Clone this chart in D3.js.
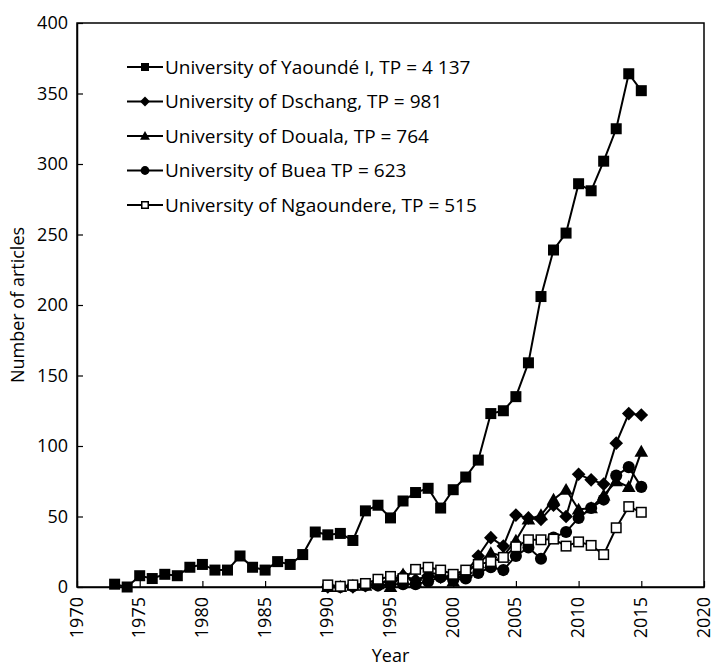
<!DOCTYPE html>
<html>
<head>
<meta charset="utf-8">
<script src="https://cdn.jsdelivr.net/npm/d3@7"></script>
<style>
  body { margin: 0; background: #fff; }
  text { font-family: "Open Sans", sans-serif; fill: #000; }
</style>
</head>
<body>
<svg id="chart" width="714" height="667"></svg>
<script>
// values
const yearsY1 = d3.range(1973, 2016);
const yaounde = [2, 0, 8, 6, 9, 8, 14, 16, 12, 12, 22, 14, 12, 18, 16, 23, 39, 37, 38, 33,
  54, 58, 49, 61, 67, 70, 56, 69, 78, 90, 123, 125, 135, 159, 206, 239, 251, 286, 281, 302, 325, 364, 352];
const years90 = d3.range(1990, 2016);
const dschang = [0, 0, 0, 1, 3, 4, 8, 5, 8, 7, 8, 10, 22, 35, 29, 51, 49, 48, 58, 50, 80, 76, 73, 102, 123, 122];
const douala = [0, 0, 1, 1, 2, 0, 9, 3, 10, 9, 4, 10, 17, 24, 22, 33, 48, 51, 62, 69, 55, 56, 65, 75, 71, 96];
const buea = [0.5, 0, 0.5, 1, 1, 2, 2, 2, 4, 7, 5, 6, 10, 14, 12, 22, 28, 20, 35, 39, 49, 56, 62, 79, 85, 71];
const ngaoundere = [1.5, 0.5, 1.5, 2.5, 5.5, 7.5, 6, 12.5, 14, 12, 9, 12, 16, 18, 21, 28.5, 33.5, 33.5, 34, 29, 32, 29.5, 23, 42, 57, 53];

const seriesNames = ["University of Yaoundé I, TP = 4 137", "University of Dschang, TP = 981",
  "University of Douala, TP = 764", "University of Buea TP = 623", "University of Ngaoundere, TP = 515"];
const xTicks = d3.range(1970, 2021, 5);
const yTicks = d3.range(0, 401, 50);

const series = [
  {name: seriesNames[0], shape: "square", years: yearsY1, vals: yaounde},
  {name: seriesNames[1], shape: "diamond", years: years90, vals: dschang},
  {name: seriesNames[2], shape: "triangle", years: years90, vals: douala},
  {name: seriesNames[3], shape: "circle", years: years90, vals: buea},
  {name: seriesNames[4], shape: "open", years: years90, vals: ngaoundere}
];

const svg = d3.select("#chart");
const margin = {top: 23, right: 10, bottom: 80, left: 77};
const width = 704 - margin.left;
const height = 587 - margin.top;

const x = d3.scaleLinear().domain([1970, 2020]).range([0, width]);
const y = d3.scaleLinear().domain([0, 400]).range([height, 0]);

const g = svg.append("g")
    .attr("transform", "translate(" + margin.left + "," + margin.top + ")");

// frame
g.append("rect")
    .attr("width", width).attr("height", height)
    .attr("fill", "none").attr("stroke", "#000").attr("stroke-width", 1.5);

const xAxis = g.append("g")
    .attr("transform", "translate(0," + height + ")")
    .call(d3.axisBottom(x).tickValues(xTicks).tickFormat(d3.format("d")).tickSizeInner(-6).tickSizeOuter(0));
xAxis.select(".domain").attr("stroke-width", 1.5);
xAxis.selectAll(".tick line").attr("stroke-width", 1.2);
xAxis.selectAll("text")
    .attr("font-size", 18)
    .attr("transform", "rotate(-90)")
    .attr("text-anchor", "end")
    .attr("x", -10).attr("y", 0).attr("dy", "0.28em");

const yAxis = g.append("g")
    .call(d3.axisLeft(y).tickValues(yTicks).tickSizeInner(-6).tickSizeOuter(0).tickPadding(9));
yAxis.select(".domain").attr("stroke-width", 1.5);
yAxis.selectAll(".tick line").attr("stroke-width", 1.2);
yAxis.selectAll("text").attr("font-size", 18);

g.append("text")
    .attr("transform", "rotate(-90)")
    .attr("x", -height / 2).attr("y", -53)
    .attr("text-anchor", "middle")
    .attr("font-size", 18)
    .text("Number of articles");

g.append("text")
    .attr("x", width / 2).attr("y", height + 75)
    .attr("text-anchor", "middle")
    .attr("font-size", 18)
    .text("Year");

function marker(sel, shape, s) {
  if (shape === "circle") {
    sel.append("circle").attr("r", s * 0.55).attr("fill", "#000");
  } else if (shape === "square") {
    sel.append("rect").attr("x", -s / 2).attr("y", -s / 2).attr("width", s).attr("height", s).attr("fill", "#000");
  } else if (shape === "open") {
    const t = s - 1.5;
    sel.append("rect").attr("x", -t / 2).attr("y", -t / 2).attr("width", t).attr("height", t)
      .attr("fill", "#fff").attr("stroke", "#000").attr("stroke-width", 1.5);
  } else if (shape === "diamond") {
    const h = s * 0.62;
    sel.append("path").attr("d", `M0,${-h}L${h},0L0,${h}L${-h},0Z`).attr("fill", "#000");
  } else if (shape === "triangle") {
    const h = s * 0.62;
    sel.append("path").attr("d", `M0,${-h}L${h},${h * 0.75}L${-h},${h * 0.75}Z`).attr("fill", "#000");
  }
}

const line = d3.line().x(d => x(d[0])).y(d => y(d[1]));

series.forEach(s => {
  const pts = s.years.map((yr, i) => [yr, s.vals[i]]);
  g.append("path")
      .datum(pts)
      .attr("d", line)
      .attr("fill", "none").attr("stroke", "#000").attr("stroke-width", 2);
  g.selectAll(null)
      .data(pts)
    .enter().append("g")
      .attr("transform", d => "translate(" + x(d[0]) + "," + y(d[1]) + ")")
      .each(function() { marker(d3.select(this), s.shape, 11); });
});

// legend
const legend = svg.append("g").attr("transform", "translate(127,67)");
series.forEach((s, i) => {
  const row = legend.append("g").attr("transform", "translate(0," + i * 34.5 + ")");
  row.append("line").attr("x1", 0).attr("x2", 36).attr("stroke", "#000").attr("stroke-width", 2);
  marker(row.append("g").attr("transform", "translate(18,0)"), s.shape, 8);
  row.append("text").attr("x", 38).attr("dy", "0.35em").attr("font-size", 19).text(s.name);
});
</script>
</body>
</html>
